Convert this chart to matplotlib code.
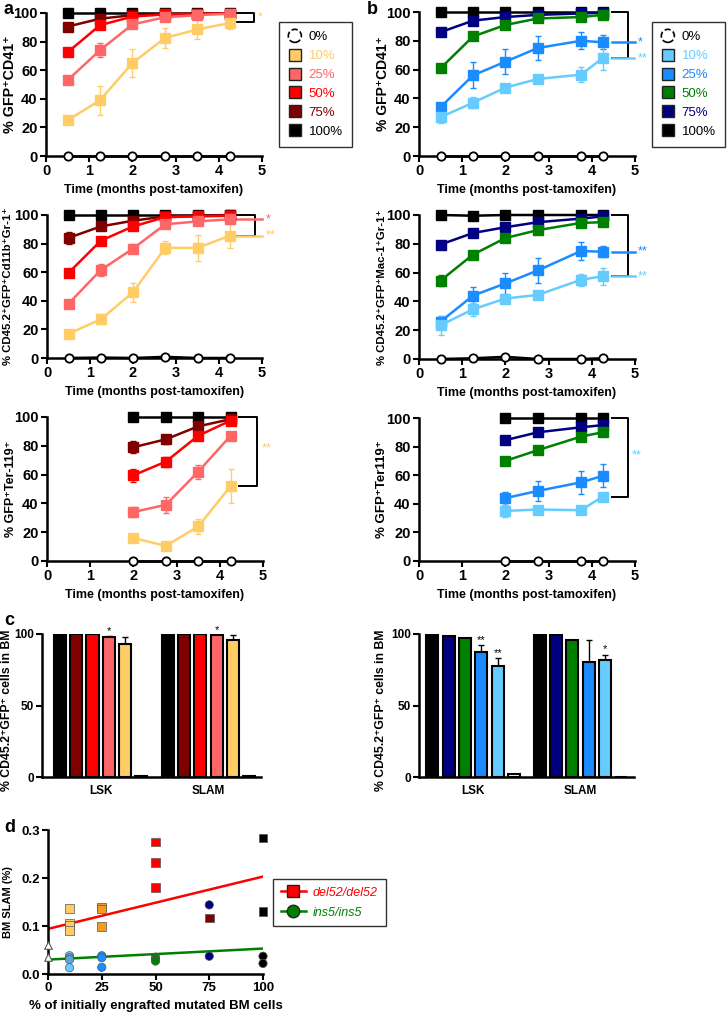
# Engraftment kinetics of del52 / ins5 mutant cells (panels a-d)

import matplotlib
matplotlib.use('Agg')
import matplotlib.pyplot as plt
import matplotlib.patches as mpatches
from matplotlib.lines import Line2D
from matplotlib.legend_handler import HandlerPatch

plt.rcParams['font.family'] = ['Liberation Sans', 'DejaVu Sans']

W, H = 727, 1013

levels = ['0%', '10%', '25%', '50%', '75%', '100%']
del_colors = ['white', '#ffcc66', '#ff6666', '#ff0000', '#800000', 'black']
ins_colors = ['white', '#66ccff', '#1a8cff', '#008000', '#000080', 'black']

# time points (months post-tamoxifen)
t_del = [0.5, 1.25, 2, 2.75, 3.5, 4.25]
t_ins = [0.5, 1.25, 2, 2.75, 3.75, 4.25]
t_del_ery = [2, 2.75, 3.5, 4.25]
t_ins_ery = [2, 2.75, 3.75, 4.25]

# values per level, order 0%,10%,25%,50%,75%,100%
a_cd41 = [[0, 0, 0, 0, 0, 0],
          [25, 39, 65, 82.5, 88.5, 93],
          [53, 74, 92, 97, 98.5, 99.5],
          [72.5, 91.5, 97.5, 99, 99.5, 99.5],
          [90.5, 96, 98.5, 99, 99.5, 99.5],
          [100, 100, 100, 100, 100, 100]]
a_cd41_err = [[0] * 6,
              [1.5, 10, 9.5, 7, 6.5, 4],
              [2, 5, 2, 1.5, 1, 0.5],
              [2, 1.5, 1, 0.5, 0.5, 0.5],
              [1, 1, 0.5, 0.5, 0.5, 0.5],
              [0] * 6]

b_cd41 = [[0, 0, 0, 0, 0, 0],
          [27, 37, 47.5, 53.5, 56.5, 68],
          [34, 56, 65.5, 75, 80, 79],
          [61, 83, 91, 95.5, 96.5, 98],
          [86, 94, 96.5, 98, 99, 99.5],
          [100, 100, 100, 100, 100, 100]]
b_cd41_err = [[0] * 6,
              [4, 4, 2, 3, 5, 8.5],
              [3, 9, 8.5, 8.5, 6, 5],
              [2, 1.5, 1.5, 1, 1, 1],
              [1, 1, 1, 0.5, 0.5, 0.5],
              [0] * 6]

a_gr1 = [[0, 0.3, 0, 0.8, 0, 0],
         [17, 27, 46, 77, 77, 85.5],
         [38, 61.5, 76.5, 93.5, 95.5, 97],
         [59.5, 82, 92, 98.5, 99, 99.5],
         [84, 92, 96, 99, 99.5, 100],
         [100, 100, 100, 100, 100, 100]]
a_gr1_err = [[0] * 6,
             [2, 3.5, 6.5, 4.5, 9, 8.5],
             [2, 4.5, 3, 2, 2, 2],
             [1.5, 1.5, 1.5, 1, 0.5, 0.5],
             [4, 1, 1, 0.5, 0.5, 0.5],
             [0] * 6]

b_gr1 = [[0, 0.5, 1.5, 0, 0, 0.5],
         [23.5, 34.5, 42, 44.5, 55, 57.5],
         [26, 44, 52.5, 61.5, 75, 74.5],
         [54.5, 72.5, 84, 89.5, 94.5, 95],
         [79.5, 87.5, 91.5, 95, 97.5, 99],
         [100, 99.5, 100, 100, 100, 100]]
b_gr1_err = [[0] * 6,
             [6.5, 4.5, 2.5, 2, 4, 6],
             [4, 6, 7.5, 8.5, 6, 4],
             [4, 1.5, 1, 1, 1, 1],
             [2, 1, 1, 1, 0.5, 0.5],
             [0] * 6]

a_ter = [[0, 0, 0, 0],
         [16, 10.5, 24, 52],
         [34, 39, 62, 87],
         [59.5, 69, 87, 97.5],
         [79, 84.5, 93.5, 98.5],
         [100, 100, 100, 100]]
a_ter_err = [[0] * 4,
             [1.5, 2, 5, 12],
             [3.5, 5.5, 5, 2],
             [4.5, 3.5, 2, 1],
             [4, 3, 1.5, 1],
             [0] * 4]

b_ter = [[0, 0, 0, 0],
         [35, 36, 35.5, 45],
         [44, 49, 55, 59.5],
         [70, 77.5, 87, 90],
         [84.5, 90, 93.5, 95],
         [100, 100, 100, 100]]
b_ter_err = [[0] * 4,
             [4, 2, 1, 2],
             [4.5, 7, 8, 8],
             [1.5, 1, 1, 1],
             [1, 1, 1, 1],
             [0] * 4]

# panel c: bars, order 100%,75%,50%,25%,10%,0%
bar_groups = ['LSK', 'SLAM']
c_del_lsk = [100, 100, 100, 98, 93, 1]
c_del_lsk_err = [0, 0, 0, 0.5, 5, 0]
c_del_slam = [100, 100, 100, 99, 95.5, 0.5]
c_del_slam_err = [0, 0, 0, 0.5, 4, 0]
c_ins_lsk = [100, 98.5, 97, 87.5, 77.5, 2]
c_ins_lsk_err = [0, 0, 0, 4.5, 5.5, 0]
c_ins_slam = [100, 99.5, 96, 80.5, 81.5, 0]
c_ins_slam_err = [0, 0, 0, 15, 4, 0]

# panel d: BM SLAM (%) vs initial engraftment
d_del_x = [10, 10, 10, 10, 25, 25, 25, 50, 50, 50, 75, 100, 100]
d_del_y = [0.136, 0.105, 0.101, 0.091, 0.140, 0.135, 0.099,
           0.275, 0.232, 0.180, 0.117, 0.283, 0.130]
d_del_c = ['#ffcc66'] * 4 + ['#f39c1f'] * 3 + ['#ff0000'] * 3 + ['#800000'] + ['black'] * 2
d_ins_x = [10, 10, 10, 10, 25, 25, 25, 50, 50, 50, 75, 75, 100, 100]
d_ins_y = [0.038, 0.034, 0.030, 0.013, 0.038, 0.034, 0.014,
           0.035, 0.030, 0.027, 0.144, 0.037, 0.037, 0.022]
d_ins_c = ['#66ccff', '#5aa6d6', '#5aa6d6', '#66ccff'] + ['#1a8cff'] * 3 + ['#008000'] * 3 + ['#000080'] * 2 + ['black'] * 2
d_wt_x = [0, 0]
d_wt_y = [0.060, 0.036]
d_del_fit = [0.094, 0.203]
d_ins_fit = [0.030, 0.053]
d_fit_x = [0, 100]


fig = plt.figure(figsize=(W / 100, H / 100), dpi=100)


def px_axes(l, t, r, b):
    return fig.add_axes([l / W, 1 - b / H, (r - l) / W, (b - t) / H])


def style(ax, size=10.5):
    for s in ['top', 'right']:
        ax.spines[s].set_visible(False)
    for s in ['left', 'bottom']:
        ax.spines[s].set_linewidth(1.8)
    ax.tick_params(direction='out', length=4, width=1.5, labelsize=size, pad=2)
    for lab in ax.get_xticklabels() + ax.get_yticklabels():
        lab.set_fontweight('bold')


def kinetics(ax, t, vals, errs, colors, ylabel, ysize, lx):
    for i in [5, 4, 3, 2, 1, 0]:
        c = colors[i]
        if i == 0:
            ax.plot(t, vals[i], color='black', lw=1.8, marker='o', ms=6,
                    mfc='white', mec='black', mew=1.3, clip_on=False, zorder=3)
        else:
            ax.errorbar(t, vals[i], yerr=errs[i], color=c, lw=1.8, marker='s',
                        ms=7, mec=c, ecolor=c, elinewidth=1, capsize=2,
                        clip_on=False, zorder=3)
    ax.set_xlim(0, 5)
    ax.set_ylim(0, 100)
    ax.set_xticks(range(6))
    ax.set_yticks(range(0, 101, 20))
    ax.set_xlabel('Time (months post-tamoxifen)', fontsize=9, fontweight='bold', labelpad=4)
    ax.set_ylabel(ylabel, fontsize=ysize, fontweight='bold')
    ax.yaxis.set_label_coords(lx, 0.5)
    style(ax)


def bracket(ax, x0, x1, top, bottom):
    ax.plot([x0, x1, x1, x0], [top, top, bottom, bottom], color='black', lw=1.4,
            clip_on=False, zorder=2)


def circle_patch(legend, orig_handle, xdescent, ydescent, width, height, fontsize):
    return mpatches.Circle((width / 2 - xdescent, height / 2 - ydescent), 4.7)


def level_legend(ax, colors, x, y):
    handles = [mpatches.Circle((0, 0), 1, fc='white', ec='black', ls='--', lw=1.2)]
    for c in colors[1:]:
        handles.append(Line2D([], [], ls='', marker='s', ms=9, mfc=c, mec='#222222', mew=1))
    leg = ax.legend(handles, levels, loc='upper left', bbox_to_anchor=(x / W, 1 - y / H),
                    bbox_transform=fig.transFigure, frameon=True, fancybox=False,
                    edgecolor='black', fontsize=9.5, labelspacing=0.5,
                    handlelength=1.0, handletextpad=0.55, borderpad=0.7, borderaxespad=0,
                    handler_map={handles[0]: HandlerPatch(patch_func=circle_patch)})
    leg.get_frame().set_linewidth(1)
    for txt, c in zip(leg.get_texts(), colors):
        txt.set_color('black' if c == 'white' else c)


# ---- panel a / b : CD41 ----
ax = px_axes(46, 13, 262, 156)
kinetics(ax, t_del, a_cd41, a_cd41_err, del_colors, '% GFP⁺CD41⁺', 10.3, -0.134)
bracket(ax, 4.42, 4.81, 100, 93.5)
ax.text(4.9, 97, '*', color='#ffcc66', fontsize=9, ha='left', va='center')
level_legend(ax, del_colors, 279, 22)

ax = px_axes(419, 12, 635, 156)
kinetics(ax, t_ins, b_cd41, b_cd41_err, ins_colors, '% GFP⁺CD41⁺', 10.0, -0.134)
ax.plot([4.47, 4.84, 4.84, 4.47], [100, 100, 68, 68], color='black', lw=1.4, clip_on=False)
ax.plot([4.47, 5.0], [79, 79], color='#1a8cff', lw=1.8, clip_on=False)
ax.plot([4.47, 4.98], [68, 68], color='#66ccff', lw=1.8, clip_on=False)
ax.text(5.06, 79, '*', color='#1a8cff', fontsize=9, va='center')
ax.text(5.06, 68, '**', color='#66ccff', fontsize=9, va='center')
level_legend(ax, ins_colors, 652, 22)

# ---- myeloid ----
ax = px_axes(47, 215, 262, 358)
kinetics(ax, t_del, a_gr1, a_gr1_err, del_colors, '% CD45.2⁺GFP⁺Cd11b⁺Gr-1⁺', 8.2, -0.158)
bracket(ax, 4.4, 4.84, 100, 85.5)
ax.plot([4.4, 5.0], [97, 97], color='#ff6666', lw=1.8, clip_on=False)
ax.plot([4.4, 5.0], [85.5, 85.5], color='#ffcc66', lw=1.8, clip_on=False)
ax.text(5.08, 97, '*', color='#ff6666', fontsize=9, va='center')
ax.text(5.08, 85.5, '**', color='#ffcc66', fontsize=9, va='center')

ax = px_axes(419, 215, 635, 359)
kinetics(ax, t_ins, b_gr1, b_gr1_err, ins_colors, '% CD45.2⁺GFP⁺Mac-1⁺Gr-1⁺', 8.2, -0.148)
bracket(ax, 4.47, 4.84, 100, 57.5)
ax.plot([4.47, 5.0], [74.5, 74.5], color='#1a8cff', lw=1.8, clip_on=False)
ax.plot([4.47, 5.0], [57.5, 57.5], color='#66ccff', lw=1.8, clip_on=False)
ax.text(5.06, 74.5, '**', color='#1a8cff', fontsize=9, va='center')
ax.text(5.06, 57.5, '**', color='#66ccff', fontsize=9, va='center')

# ---- erythroid ----
ax = px_axes(47, 417, 263, 561)
kinetics(ax, t_del_ery, a_ter, a_ter_err, del_colors, '% GFP⁺Ter-119⁺', 9, -0.139)
bracket(ax, 4.44, 4.86, 100, 52)
ax.text(4.97, 78.5, '**', color='#ffcc66', fontsize=9, va='center')

ax = px_axes(419, 418, 635, 561)
kinetics(ax, t_ins_ery, b_ter, b_ter_err, ins_colors, '% GFP⁺Ter119⁺', 9.5, -0.144)
bracket(ax, 4.47, 4.84, 100, 45)
ax.text(4.93, 74, '**', color='#66ccff', fontsize=9, va='center')


# ---- panel c : bars ----
def bars(ax, lsk, lsk_err, slam, slam_err, colors, offset, xlim, stars, lx):
    order = colors[::-1]
    for g, (v, e) in enumerate([(lsk, lsk_err), (slam, slam_err)]):
        xs = [g * offset + i for i in range(6)]
        ax.bar(xs, v, width=0.74, color=order, edgecolor='black', linewidth=1.5, zorder=2)
        for x, val, err in zip(xs, v, e):
            if err > 0:
                ax.errorbar(x, val, yerr=[[0], [err]], color='black', elinewidth=1,
                            capsize=2.5, capthick=1, zorder=1)
    for x, y, s in stars:
        ax.text(x, y, s, ha='center', va='bottom', fontsize=8)
    ax.set_xlim(*xlim)
    ax.set_ylim(0, 100)
    ax.set_yticks([0, 50, 100])
    ax.set_xticks([2.5, offset + 2.5])
    ax.set_xticklabels(bar_groups)
    ax.set_ylabel('% CD45.2⁺GFP⁺ cells in BM', fontsize=8.8, fontweight='bold')
    ax.yaxis.set_label_coords(lx, 0.47)
    style(ax, 8.5)
    ax.tick_params(axis='x', length=0, pad=6)
    ax.spines['left'].set_bounds(0, 100)


ax = px_axes(42, 634, 261, 777)
bars(ax, c_del_lsk, c_del_lsk_err, c_del_slam, c_del_slam_err, del_colors, 6.62,
     (-1.1, 12.35), [(3, 98.5, '*'), (6.62 + 3, 99.5, '*')], -0.132)
ax = px_axes(419, 634, 634, 777)
bars(ax, c_ins_lsk, c_ins_lsk_err, c_ins_slam, c_ins_slam_err, ins_colors, 6.57,
     (-0.82, 12.35), [(3, 92.5, '**'), (4, 83.5, '**'), (6.57 + 4, 86, '*')], -0.149)

# ---- panel d ----
ax = px_axes(48, 830, 263, 974)
ax.plot(d_fit_x, d_del_fit, color='#ff0000', lw=1.8, zorder=2)
ax.plot(d_fit_x, d_ins_fit, color='#008000', lw=1.8, zorder=2)
ax.scatter(d_del_x, d_del_y, marker='s', s=38, c=d_del_c, edgecolors='#555555',
           linewidths=0.5, zorder=3, clip_on=False)
ax.scatter(d_ins_x, d_ins_y, marker='o', s=36, c=d_ins_c, edgecolors='#555555',
           linewidths=0.5, zorder=3, clip_on=False)
ax.scatter(d_wt_x, d_wt_y, marker='^', s=30, c='white', edgecolors='#555555',
           linewidths=0.8, zorder=4, clip_on=False)
ax.set_xlim(0, 100)
ax.set_ylim(0, 0.3)
ax.set_xticks([0, 25, 50, 75, 100])
ax.set_yticks([0, 0.1, 0.2, 0.3])
ax.set_yticklabels(['0.0', '0.1', '0.2', '0.3'])
ax.set_xlabel('% of initially engrafted mutated BM cells', fontsize=9.5, fontweight='bold', labelpad=4)
ax.set_ylabel('BM SLAM (%)', fontsize=8, fontweight='bold')
ax.yaxis.set_label_coords(-0.163, 0.5)
style(ax, 9.5)
dh = [Line2D([], [], color='#ff0000', lw=1.8, marker='s', ms=9, mfc='#ff0000', mec='#222222'),
      Line2D([], [], color='#008000', lw=1.8, marker='o', ms=9, mfc='#008000', mec='#222222')]
leg = ax.legend(dh, ['del52/del52', 'ins5/ins5'], loc='upper left',
                bbox_to_anchor=(273 / W, 1 - 879 / H), bbox_transform=fig.transFigure,
                frameon=True, fancybox=False, edgecolor='black', fontsize=9,
                handlelength=2.0, handletextpad=0.6, labelspacing=0.64, borderpad=0.6,
                borderaxespad=0)
leg.get_frame().set_linewidth(1)
for txt, c in zip(leg.get_texts(), ['#ff0000', '#008000']):
    txt.set_color(c)
    txt.set_fontstyle('italic')

# panel letters
for x, y, s in [(4, 9, 'a'), (367, 9, 'b'), (4, 620, 'c'), (4, 827, 'd')]:
    fig.text(x / W, 1 - y / H, s, fontsize=13, fontweight='bold', va='center')

fig.savefig('out.png', dpi=100)
